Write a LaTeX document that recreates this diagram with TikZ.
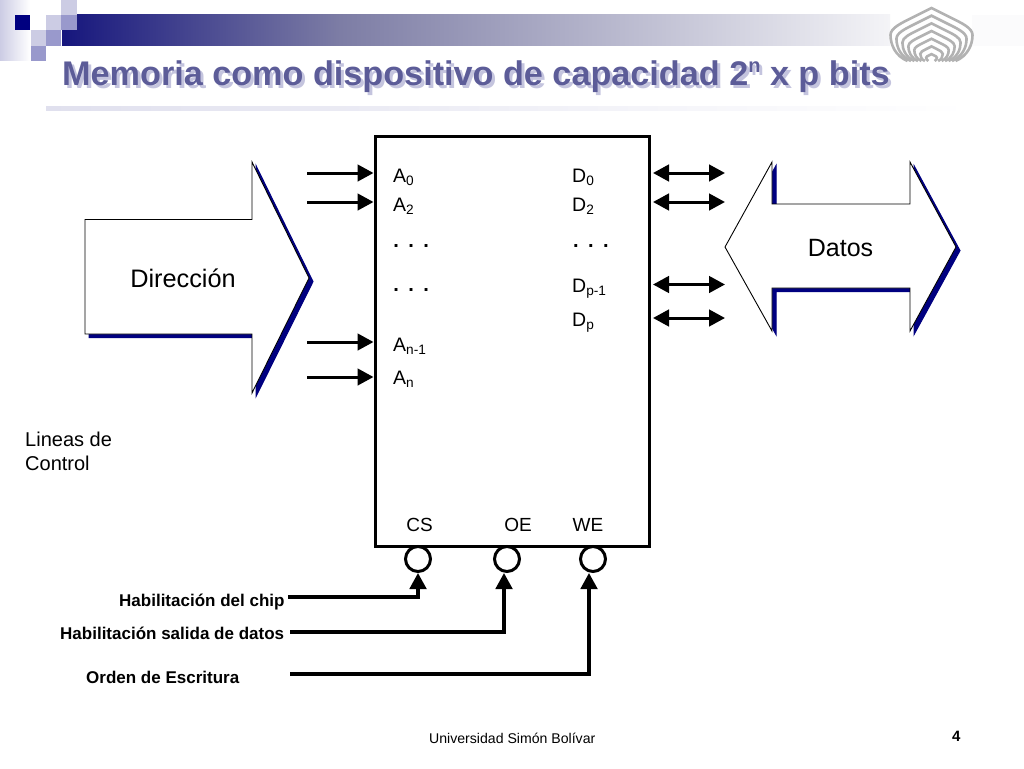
\documentclass[tikz,border=0pt]{standalone}
\usepackage{fontspec}
\setmainfont{Liberation Sans}
\usetikzlibrary{arrows.meta,calc}
\definecolor{navy}{RGB}{0,0,128}
\definecolor{bandstart}{RGB}{22,22,125}
\definecolor{bandmid}{RGB}{125,125,165}
\definecolor{bandend}{RGB}{244,244,247}
\definecolor{titlecol}{RGB}{92,92,152}
\definecolor{titleshadow}{RGB}{196,196,222}
\definecolor{sqlight}{RGB}{204,204,228}
\definecolor{sqmid}{RGB}{153,153,204}
\definecolor{rulecol}{RGB}{224,224,238}
\definecolor{logocol}{RGB}{178,178,178}
\tikzset{
  x=1pt,y=-1pt,
  label18/.style={inner sep=0pt,anchor=base west,font=\fontsize{19.5}{21}\selectfont},
  dots/.style={inner sep=0pt,anchor=base west,font=\fontsize{20}{22}\selectfont\bfseries},
  sidetext/.style={inner sep=0pt,anchor=base west,font=\fontsize{20}{22}\selectfont},
  ctrl/.style={inner sep=0pt,anchor=base,font=\fontsize{19}{21}\selectfont},
  habil/.style={inner sep=0pt,anchor=base west,font=\fontsize{17}{19}\selectfont\bfseries},
  wire/.style={line width=3pt,line cap=butt,-{Triangle[length=16pt,width=16.5pt]}},
  biwire/.style={line width=3pt,{Triangle[length=16pt,width=16.5pt]}-{Triangle[length=16pt,width=16.5pt]}},
  ctrlwire/.style={line width=3.4pt,line join=miter,-{Triangle[length=16pt,width=16.5pt]}},
  bigarrow/.style={draw=black,line width=0.9pt,fill=white,line join=miter},
  bigshadow/.style={fill=navy,draw=navy,line width=1pt,line join=miter},
  bubble/.style={circle,draw=black,line width=3pt,fill=white,minimum size=25pt,inner sep=0pt},
  logoline/.style={draw=logocol,line width=2.6pt},
  titletext/.style={inner sep=0pt,anchor=base west,font=\fontsize{34.2}{38}\selectfont\bfseries}
}
\newcommand{\dirpath}{(85,219.5) -- (252,219.5) -- (252,162) -- (309,278) -- (252,393) -- (252,334) -- (85,334) -- cycle}
\newcommand{\datpath}{(725,247) -- (772,162) -- (772,204) -- (910,204) -- (910,162) -- (956,247) -- (910,331) -- (910,288) -- (772,288) -- (772,331) -- cycle}
\newcommand{\titletxt}{Memoria como dispositivo de capacidad 2\raisebox{0.36em}{\fontsize{20}{22}\selectfont n} x p bits}
\newcommand{\threedots}{.\hspace{9.44pt}.\hspace{9.44pt}.}
\begin{document}
\begin{tikzpicture}
\useasboundingbox (0,0) rectangle (1024,768);
\fill[white] (0,0) rectangle (1024,768);
% header
\shade[left color=sqlight,right color=white] (0,0) rectangle (30,60);
\fill[bandend!40!white] (972,15) rectangle (1024,46);
\shade[left color=bandstart,right color=bandmid] (62,15) rectangle (340,46);
\shade[left color=bandmid,right color=bandend] (340,15) rectangle (890,46);
\fill[navy] (15,15) rectangle (30,30);
\fill[sqlight] (46,15) rectangle (61,30);
\fill[sqmid] (61,15) rectangle (77,30);
\fill[sqlight] (61,0) rectangle (77,15);
\fill[sqlight] (31,30) rectangle (46,46);
\fill[sqmid] (46,30) rectangle (61,46);
\fill[sqmid] (31,46) rectangle (46,61);
% logo
\foreach \s in {1,0.855,0.71,0.565,0.42,0.275,0.13} {
  \begin{scope}[shift={(931.5,61)},scale=\s]
    \draw[logoline] (-24,0) .. controls (-36,-5) and (-41,-16) .. (-41,-26) .. controls (-41,-33) and (-30,-38) .. (-20,-43) -- (0,-53) -- (20,-43) .. controls (30,-38) and (41,-33) .. (41,-26) .. controls (41,-16) and (36,-5) .. (24,0);
  \end{scope}
}
% title
\node[titletext,text=titleshadow] (titleshadow) at (65,88) {\titletxt};
\node[titletext,text=titlecol] (title) at (62,85) {\titletxt};
\shade[left color=rulecol,right color=white] (46,106) rectangle (970,110);
% big arrows
\filldraw[bigshadow,shift={(4,3.6)}] \dirpath;
\draw[bigarrow] \dirpath;
\filldraw[bigshadow,shift={(4,3.6)}] \datpath;
\draw[bigarrow] \datpath;
\node[inner sep=0pt,anchor=base,font=\fontsize{25.3}{28}\selectfont] (dir) at (183,287) {Dirección};
\node[inner sep=0pt,anchor=base,font=\fontsize{25}{28}\selectfont] (dat) at (840.5,256) {Datos};
% memory box
\node[draw=black,line width=3pt,fill=white,minimum width=274pt,minimum height=410pt,inner sep=0pt,anchor=north west] (box) at (373.5,134.5) {};
% labels inside
\node[label18] (a0) at (393,182) {A\textsubscript{0}};
\node[label18] (a2) at (393,211) {A\textsubscript{2}};
\node[dots] (ad1) at (393.2,247) {\threedots};
\node[dots] (ad2) at (393.2,291) {\threedots};
\node[label18] (an1) at (393,351) {A\textsubscript{n-1}};
\node[label18] (an) at (393,384) {A\textsubscript{n}};
\node[label18] (d0) at (572,182) {D\textsubscript{0}};
\node[label18] (d2) at (572,211) {D\textsubscript{2}};
\node[dots] (dd1) at (572.9,247) {\threedots};
\node[label18] (dp1) at (572,292) {D\textsubscript{p-1}};
\node[label18] (dp) at (572,326) {D\textsubscript{p}};
\node[ctrl] (cs) at (419.5,531) {CS};
\node[ctrl] (oe) at (518,531) {OE};
\node[ctrl] (we) at (588,531) {WE};
% side text
\node[sidetext] (lin1) at (25,446) {Lineas de};
\node[sidetext] (lin2) at (25,470) {Control};
\node[habil] (h1) at (119,606) {Habilitación del chip};
\node[habil] (h2) at (60,639.5) {Habilitación salida de datos};
\node[habil] (h3) at (86,683) {Orden de Escritura};
\node[inner sep=0pt,anchor=base west,font=\fontsize{14.1}{17}\selectfont] (foot) at (429,743) {Universidad Simón Bolívar};
\node[inner sep=0pt,anchor=base west,font=\fontsize{15}{17}\selectfont\bfseries] (pg) at (952,741) {4};
% address arrows
\foreach \n/\y in {p/173,q/202,r/342,s/377} {
  \coordinate (l\n) at (307,\y);
  \draw[wire] (l\n) -- (l\n -| box.west);
}
% data arrows
\foreach \n/\y in {p/173,q/202,r/284.5,s/318} {
  \coordinate (ra\n) at (653,\y);
  \coordinate (rb\n) at (725,\y);
  \draw[biwire] (ra\n) -- (rb\n);
}
% bubbles
\node[bubble] (bcs) at (418,559) {};
\node[bubble] (boe) at (507,559) {};
\node[bubble] (bwe) at (593,559) {};
% control wires
\coordinate (c1) at (288,597);
\coordinate (c2) at (290,632);
\coordinate (c3) at (290,674);
\draw[ctrlwire] (c1) -| (bcs.south);
\coordinate (oet) at (504,573);
\coordinate (wet) at (589,573);
\draw[ctrlwire] (c2) -| (oet);
\draw[ctrlwire] (c3) -| (wet);
\end{tikzpicture}
\end{document}
